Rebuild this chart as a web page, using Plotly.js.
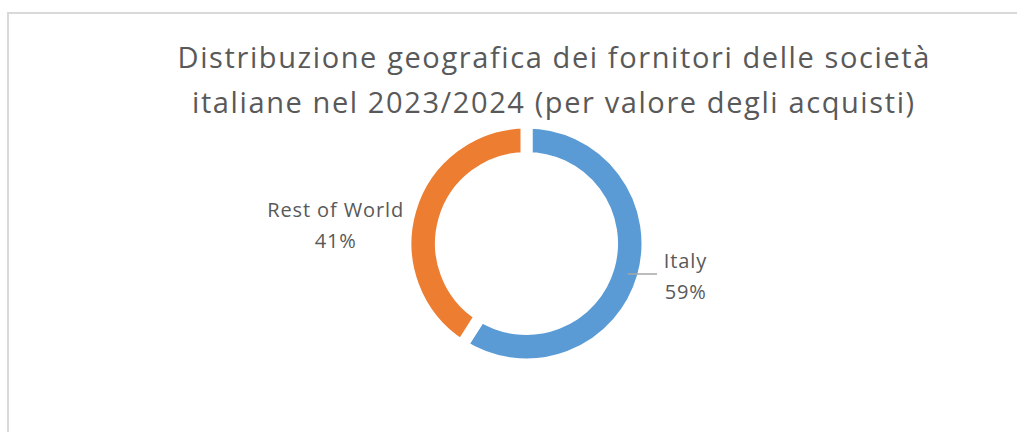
<!DOCTYPE html>
<html>
<head>
<meta charset="utf-8">
<script src="https://cdn.plot.ly/plotly-3.0.1.min.js"></script>
<style>
  html, body { margin: 0; padding: 0; background: #ffffff; }
  #chart { width: 1017px; height: 432px; }
  /* the original typeface runs wider than Open Sans */
  #chart .gtitle { letter-spacing: 1.6px; }
  #chart .annotation-text { letter-spacing: 0.9px; }
  #chart .annotation[data-index="4"] .annotation-text { letter-spacing: 1.6px; }
</style>
</head>
<body>
<div id="chart"></div>
<script>
// Data
var labels = ['Italy', 'Rest of World'];
var values = [59, 41];
var colors = ['#5b9bd5', '#ed7d31'];

var titleLines = [
  'Distribuzione geografica dei fornitori delle società',
  'italiane nel 2023/2024 (per valore degli acquisti)'
];

var total = values.reduce(function (a, b) { return a + b; }, 0);
function pct(v) { return Math.round(v / total * 100) + '%'; }

var trace = {
  type: 'pie',
  labels: labels,
  values: values,
  sort: false,
  direction: 'clockwise',
  rotation: 0,
  hole: 0.707,
  textinfo: 'none',
  hoverinfo: 'label+percent',
  marker: {
    colors: colors,
    line: { color: '#ffffff', width: 12 }
  },
  domain: { x: [0.3987, 0.6367], y: [0.1563, 0.7164] },
  showlegend: false
};

var textColor = '#595959';
var labelFont = { family: '"Open Sans", sans-serif', size: 20, color: textColor };
var titleFont = { family: '"Open Sans", sans-serif', size: 29, color: textColor };

// slice labels (name on one line, share on the next)
var annotations = [
  { x: 0.6745, y: 0.396, text: labels[0] },
  { x: 0.6745, y: 0.326, text: pct(values[0]) },
  { x: 0.3295, y: 0.514, text: labels[1] },
  { x: 0.3295, y: 0.444, text: pct(values[1]) }
].map(function (a) {
  return {
    xref: 'paper', yref: 'paper', x: a.x, y: a.y,
    text: a.text, showarrow: false,
    xanchor: 'center', yanchor: 'middle',
    font: labelFont
  };
});

// second title line, kept apart to match the wider line spacing
annotations.push({
  xref: 'paper', yref: 'paper', x: 0.545, y: 1 - 101 / 432,
  text: titleLines[1], showarrow: false,
  xanchor: 'center', yanchor: 'middle',
  font: titleFont
});

var layout = {
  width: 1017,
  height: 432,
  margin: { l: 0, r: 0, t: 0, b: 0 },
  paper_bgcolor: '#ffffff',
  plot_bgcolor: '#ffffff',
  title: {
    text: titleLines[0],
    x: 0.545,
    xanchor: 'center',
    y: 1 - 58 / 432,
    yanchor: 'middle',
    font: titleFont
  },
  annotations: annotations,
  shapes: [
    // chart frame (cut off at right and bottom)
    {
      type: 'rect', xref: 'paper', yref: 'paper',
      x0: 8 / 1017, x1: 1.05, y0: -0.05, y1: 1 - 13 / 432,
      line: { color: '#d9d9d9', width: 2 }
    },
    // leader line for Italy
    {
      type: 'line', xref: 'paper', yref: 'paper',
      x0: 628 / 1017, x1: 657 / 1017, y0: 1 - 274 / 432, y1: 1 - 274 / 432,
      line: { color: '#a6a6a6', width: 1.5 }
    }
  ]
};

Plotly.newPlot('chart', [trace], layout, { displayModeBar: false, staticPlot: true });
</script>
</body>
</html>
